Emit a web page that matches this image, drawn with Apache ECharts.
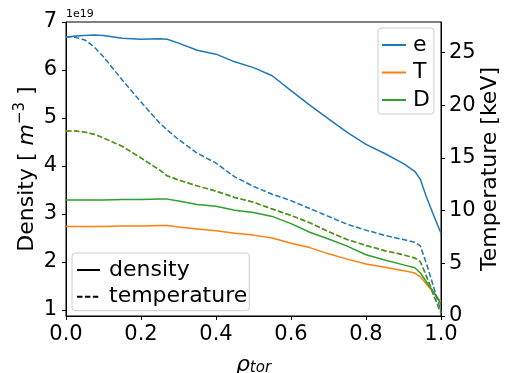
<!DOCTYPE html>
<html>
<head>
<meta charset="utf-8">
<script src="https://cdn.jsdelivr.net/npm/echarts@6/dist/echarts.min.js"></script>
<style>html,body{margin:0;padding:0;background:#fff}#c{width:506px;height:373px}</style>
</head>
<body>
<div id="c"></div>
<script>
// normalized toroidal radius
const rho = [0, 0.025, 0.05, 0.075, 0.1, 0.15, 0.2, 0.25, 0.27, 0.3, 0.35, 0.4, 0.45, 0.5, 0.55, 0.6, 0.65, 0.7, 0.75, 0.8, 0.85, 0.9, 0.93, 0.945, 0.96, 0.98, 1.0];
// densities [1e19 m^-3]
const nE = [6.69, 6.71, 6.72, 6.73, 6.72, 6.66, 6.64, 6.65, 6.64, 6.56, 6.41, 6.33, 6.17, 6.05, 5.88, 5.57, 5.27, 4.98, 4.70, 4.45, 4.26, 4.05, 3.89, 3.72, 3.38, 2.98, 2.60];
const nT = [2.74, 2.74, 2.74, 2.74, 2.74, 2.75, 2.75, 2.76, 2.76, 2.73, 2.69, 2.65, 2.60, 2.56, 2.50, 2.39, 2.30, 2.17, 2.06, 1.96, 1.89, 1.82, 1.77, 1.69, 1.55, 1.36, 1.17];
const nD = [3.29, 3.29, 3.29, 3.29, 3.29, 3.30, 3.30, 3.31, 3.31, 3.27, 3.20, 3.16, 3.08, 3.03, 2.95, 2.80, 2.62, 2.48, 2.33, 2.15, 2.04, 1.94, 1.88, 1.77, 1.60, 1.38, 1.12];
// temperatures [keV]
const tE = [26.5, 26.45, 26.2, 25.55, 24.6, 22.4, 20.3, 18.3, 17.65, 16.75, 15.45, 14.5, 13.2, 12.3, 11.55, 10.95, 10.2, 9.45, 8.7, 8.15, 7.65, 7.25, 7.0, 6.65, 5.1, 2.8, 0.4];
const tT = [17.55, 17.55, 17.45, 17.25, 16.9, 16.1, 15.0, 13.85, 13.3, 12.9, 12.35, 11.85, 11.25, 10.8, 10.15, 9.55, 8.85, 8.0, 7.25, 6.7, 6.2, 5.8, 5.5, 5.15, 3.9, 2.0, 0.25];
const tD = tT.slice();
// ticks
const xTicks = [0, 0.2, 0.4, 0.6, 0.8, 1.0];
const leftTicks = [1, 2, 3, 4, 5, 6, 7];
const rightTicks = [0, 5, 10, 15, 20, 25];
const species = ['e', 'T', 'D'];
const colors = ['#1f77b4', '#ff7f0e', '#2ca02c'];

const FONT = 'DejaVu Sans';
const pair = arr => rho.map((r, i) => [r, arr[i]]);
const dens = [nE, nT, nD];
const temp = [tE, tT, tD];
const DASH = [5.5, 2.4];

const series = [];
species.forEach((s, i) => {
  series.push({
    name: s, type: 'line', yAxisIndex: 0, data: pair(dens[i]), symbol: 'none',
    lineStyle: {color: colors[i], width: 1.5}, itemStyle: {color: colors[i]}, z: 2
  });
});
species.forEach((s, i) => {
  series.push({
    name: s, type: 'line', yAxisIndex: 1, data: pair(temp[i]), symbol: 'none',
    lineStyle: {color: colors[i], width: 1.5, type: DASH}, itemStyle: {color: colors[i]}, z: 3
  });
});
series.push({name: 'density', type: 'line', data: [], symbol: 'none',
  lineStyle: {color: '#000', width: 1.5}, itemStyle: {color: '#000'}});
series.push({name: 'temperature', type: 'line', data: [], symbol: 'none',
  lineStyle: {color: '#000', width: 1.5, type: DASH}, itemStyle: {color: '#000'}});

const axisCommon = {
  axisLine: {show: true, lineStyle: {color: '#000', width: 1}},
  axisTick: {show: true, inside: false, length: 4, lineStyle: {color: '#000', width: 1}},
  splitLine: {show: false},
  nameMoveOverlap: false,
  nameTextStyle: {fontFamily: FONT, fontSize: 22, color: '#000'}
};

const legendCommon = {
  orient: 'vertical',
  textStyle: {fontFamily: FONT, fontSize: 22, color: '#000', lineHeight: 22, padding: [0, 0, 0, 2]},
  borderColor: '#cccccc', borderWidth: 1, borderRadius: 3,
  backgroundColor: 'rgba(255,255,255,0.8)',
  itemHeight: 12,
  itemStyle: {opacity: 0},
  selectedMode: false
};

const chart = echarts.init(document.getElementById('c'), null, {renderer: 'canvas'});
chart.setOption({
  animation: false,
  grid: {left: 66, right: 65, top: 22, bottom: 57, show: true, borderColor: '#000', borderWidth: 1,
         containLabel: false, outerBoundsMode: 'none'},
  xAxis: Object.assign({}, axisCommon, {
    type: 'value', min: 0, max: 1,
    axisLabel: {customValues: xTicks, formatter: v => v.toFixed(1), fontFamily: FONT, fontSize: 21, color: '#000', margin: 8},
    axisTick: Object.assign({}, axisCommon.axisTick, {customValues: xTicks}),
    name: '{r|ρ}{s|tor}', nameLocation: 'middle', nameGap: 30,
    nameTextStyle: {rich: {
      r: {fontFamily: FONT, fontSize: 22, fontStyle: 'italic', color: '#000', lineHeight: 30, verticalAlign: 'bottom'},
      s: {fontFamily: FONT, fontSize: 15, fontStyle: 'italic', color: '#000', lineHeight: 15, verticalAlign: 'bottom'}
    }}
  }),
  yAxis: [
    Object.assign({}, axisCommon, {
      type: 'value', position: 'left', min: 0.875, max: 7.0,
      axisLabel: {customValues: leftTicks, fontFamily: FONT, fontSize: 21, color: '#000', margin: 9},
      axisTick: Object.assign({}, axisCommon.axisTick, {customValues: leftTicks}),
      name: 'Density [ {i|m}{s|−3} ]', nameLocation: 'middle', nameGap: 25, nameRotate: 90,
      nameTextStyle: {fontFamily: FONT, fontSize: 22, color: '#000', lineHeight: 28, rich: {
        i: {fontFamily: FONT, fontSize: 22, fontStyle: 'italic', color: '#000', lineHeight: 28},
        s: {fontFamily: FONT, fontSize: 15, color: '#000', lineHeight: 15, verticalAlign: 'top'}
      }}
    }),
    Object.assign({}, axisCommon, {
      type: 'value', position: 'right', min: 0, max: 27.9,
      axisLabel: {customValues: rightTicks, fontFamily: FONT, fontSize: 21, color: '#000', margin: 8},
      axisTick: Object.assign({}, axisCommon.axisTick, {customValues: rightTicks}),
      name: 'Temperature [keV]', nameLocation: 'middle', nameGap: 38, nameRotate: 90
    })
  ],
  legend: [
    Object.assign({}, legendCommon, {
      data: species, left: 378, top: 28, itemWidth: 24, itemGap: 5.5, padding: [6, 4, 3, 3]
    }),
    Object.assign({}, legendCommon, {
      data: [{name: 'density'}, {name: 'temperature', lineStyle: {type: DASH}}],
      left: 72, top: 253, itemWidth: 23, itemGap: 4.7, padding: [6, 2, 3, 4],
      textStyle: Object.assign({}, legendCommon.textStyle, {padding: [0, 0, 0, 4]})
    })
  ],
  graphic: [{type: 'text', left: 66, top: 9, style: {text: '1e19', font: '11px "DejaVu Sans"', fill: '#000'}}],
  series: series
});
</script>
</body>
</html>
